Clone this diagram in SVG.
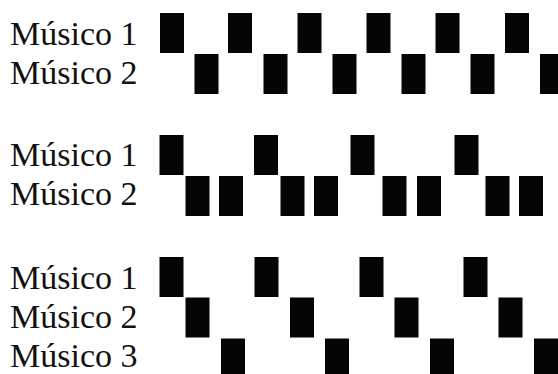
<svg xmlns="http://www.w3.org/2000/svg" width="558" height="374" viewBox="0 0 558 374">
<defs>
<style>
.t{font-family:'Liberation Serif','Times New Roman',serif;font-size:34px;fill:#111}
.b{fill:#050505}
</style>
<rect id="b" class="b" width="24" height="40"/>
</defs>
<rect width="558" height="374" fill="#fff"/>
<g id="s1">
<text class="t" x="10" y="44.5">Músico 1</text>
<text class="t" x="10" y="84">Músico 2</text>
<use href="#b" x="160" y="13"/><use href="#b" x="228" y="13"/><use href="#b" x="297.5" y="13"/><use href="#b" x="366.5" y="13"/><use href="#b" x="435.5" y="13"/><use href="#b" x="505" y="13"/>
<use href="#b" x="194.5" y="54"/><use href="#b" x="263.5" y="54"/><use href="#b" x="332.5" y="54"/><use href="#b" x="401.5" y="54"/><use href="#b" x="470.5" y="54"/><use href="#b" x="540" y="54"/>
</g>
<g id="s2">
<text class="t" x="10" y="166">Músico 1</text>
<text class="t" x="10" y="205">Músico 2</text>
<use href="#b" x="159.5" y="135"/><use href="#b" x="254" y="135"/><use href="#b" x="350.5" y="135"/><use href="#b" x="454.5" y="135"/>
<use href="#b" x="185.5" y="176"/><use href="#b" x="219" y="176"/><use href="#b" x="280.5" y="176"/><use href="#b" x="314" y="176"/><use href="#b" x="382.5" y="176"/><use href="#b" x="417" y="176"/><use href="#b" x="485.5" y="176"/><use href="#b" x="519" y="176"/>
</g>
<g id="s3">
<text class="t" x="10" y="289">Músico 1</text>
<text class="t" x="10" y="328">Músico 2</text>
<text class="t" x="10" y="367">Músico 3</text>
<use href="#b" x="159.5" y="257"/><use href="#b" x="254.5" y="257"/><use href="#b" x="359.5" y="257"/><use href="#b" x="463.5" y="257"/>
<use href="#b" x="185.5" y="297.5"/><use href="#b" x="290" y="297.5"/><use href="#b" x="394.5" y="297.5"/><use href="#b" x="498.5" y="297.5"/>
<use href="#b" x="221" y="338.5"/><use href="#b" x="325" y="338.5"/><use href="#b" x="430" y="338.5"/><use href="#b" x="534" y="338.5"/>
</g>
</svg>
